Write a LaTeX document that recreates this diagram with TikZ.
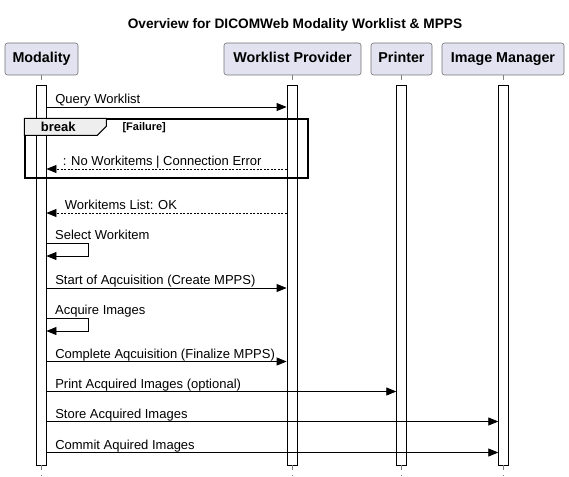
\documentclass[tikz,border=0pt]{standalone}
\usepackage{fontspec}
\setmainfont{Liberation Sans}
\usetikzlibrary{
    arrows.meta,
    positioning,
    calc
}
\definecolor{participant fill}{HTML}{E2E2F0}
\definecolor{tab fill}{HTML}{EEEEEE}
\tikzset{
    % Colors
    participant border/.style={draw=black!55},
    %
    % Nodes
    title/.style={font=\fontsize{13.7}{16}\selectfont\bfseries},
    participant/.style={participant border,fill=participant fill,rounded corners=2.5pt,
        line width=.6pt,minimum height=32,inner sep=0pt,text height=10.5pt,text depth=3pt,
        font=\fontsize{14.3}{17}\selectfont\bfseries},
    activation/.style={draw,fill=white,line width=.8pt,minimum width=10,inner sep=0pt},
    lifeline/.style={black!50,line width=.6pt,dash pattern=on 5pt off 5pt},
    frame box/.style={draw,line width=1.4pt,inner sep=0pt},
    tab/.style={draw,line width=1pt,fill=tab fill},
    msg label/.style={anchor=base west,inner sep=0pt,font=\fontsize{13}{15}\selectfont},
    %
    % Arrows
    arrow tip/.tip={Triangle[length=10pt,width=8pt]},
    msg/.style={-{arrow tip},line width=.8pt},
    reply/.style={msg,dash pattern=on 2pt off 1.5pt}
}

\begin{document}
\begin{tikzpicture}[x=1pt,y=-1pt]
    \useasboundingbox (0,0) rectangle (569,476);
    \node[title] (title) at (295,25) {Overview for DICOMWeb Modality Worklist \& MPPS};
    % participants
    \node[participant,minimum width=73] (mod) at (41.5,59) {Modality};
    \node[participant,minimum width=137] (wlp) at (292.5,59) {Worklist Provider};
    \node[participant,minimum width=61] (prn) at (401.5,59) {Printer};
    \node[participant,minimum width=122] (imgr) at (503,59) {Image Manager};
    \coordinate (foot) at (0,476);
    % lifelines and activations
    \foreach \p/\b/\x in {mod/barM/41,wlp/barW/292,prn/barP/401.7,imgr/barI/503.7} {
        \node[activation,minimum height=380] (\b) at (\x,275) {};
        \draw[lifeline] (\b.north |- \p.south) -- (\b.north);
        \draw[lifeline] (\b.south) -- (\b.south |- foot);
    }
    % break frame
    \node[frame box,minimum width=283,minimum height=59] (brk) at (166.5,148.5) {};
    \draw[tab] (brk.north west) -- ++(82,0) -- ++(0,8) -- ++(-9,9) -- ++(-73,0) -- cycle;
    \node[anchor=base,font=\fontsize{13}{15}\selectfont\bfseries] (brklabel) at ($(brk.north west)+(34,13.5)$) {break};
    \node[anchor=base west,inner sep=0pt,font=\fontsize{11}{13}\selectfont\bfseries] (brkguard) at ($(brk.north west)+(98,12.5)$) {[Failure]};
    % calls
    \foreach \y/\to/\txt in {107/barW/Query Worklist,
            288/barW/Start of Aqcuisition (Create MPPS),
            361.5/barW/Complete Aqcuisition (Finalize MPPS),
            391.5/barP/Print Acquired Images (optional),
            421.5/barI/Store Acquired Images,
            452.5/barI/Commit Aquired Images}
        \draw[msg] (barM.east |- 0,\y) -- (\to.west |- 0,\y)
            node[msg label,pos=0,xshift=8.5pt,yshift=3.5pt] {\txt};
    % replies
    \draw[reply] (barW.west |- 0,169) -- (barM.east |- 0,169)
        node[msg label,pos=1,xshift=16pt,yshift=3.5pt] {: No Workitems | Connection Error};
    \draw[reply] (barW.west |- 0,213) -- (barM.east |- 0,213)
        node[msg label,pos=1,xshift=18pt,yshift=3.5pt] {Workitems List: OK};
    % self messages
    \foreach \y/\txt in {243/Select Workitem,318/Acquire Images} {
        \draw[msg] (barM.east |- 0,\y) -- ++(42,0) -- ++(0,13) -- (barM.east |- 0,\y+13);
        \node[msg label,xshift=8.5pt,yshift=3.5pt] at (barM.east |- 0,\y) {\txt};
    }
\end{tikzpicture}
\end{document}
